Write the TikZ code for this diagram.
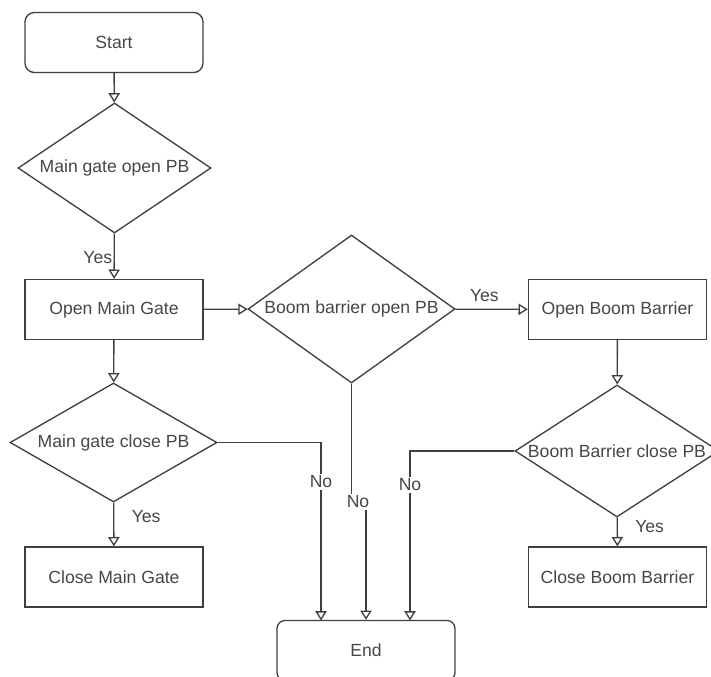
\documentclass[tikz,border=0pt]{standalone}
\usepackage{fontspec}
\setmainfont{Liberation Sans}
\usetikzlibrary{shapes.geometric, arrows.meta, positioning}
\definecolor{linegray}{RGB}{64, 64, 64}
\definecolor{textgray}{RGB}{70, 70, 70}
\newcommand{\dtext}[1]{\makebox[0pt]{#1}}

\begin{document}
\begin{tikzpicture}[
    x=0.75pt, y=-0.75pt,
    terminal/.style={rectangle, rounded corners=7pt, minimum width=133.5pt, minimum height=45pt, text centered, draw=linegray, line width=1pt, text=textgray, font=\fontsize{13.2}{16}\selectfont},
    process/.style={rectangle, minimum width=133.5pt, minimum height=45pt, text centered, draw=linegray, line width=1pt, text=textgray, font=\fontsize{13.2}{16}\selectfont},
    decision/.style={diamond, inner sep=0pt, draw=linegray, line width=1pt, text=textgray, font=\fontsize{13.2}{16}\selectfont},
    flow/.style={draw=linegray, line width=1pt, -{Triangle[open, length=7pt, width=8.5pt]}},
    edgelabel/.style={inner sep=1pt, text=textgray, font=\fontsize{13.2}{16}\selectfont},
    nolabel/.style={fill=white, inner sep=1.5pt, text=textgray, font=\fontsize{13.2}{16}\selectfont}
]
\useasboundingbox (0,0) rectangle (711,677);

% Terminals
\node (start_node) [terminal] at (114,42.5) {Start};
\node (end_node) [terminal, rounded corners=6pt] at (366,650.5) {End};

% Left column
\node (main_open_pb) [decision, minimum width=144.75pt, minimum height=97.5pt] at (114.5,168) {\dtext{Main gate open PB}};
\node (open_main_gate) [process] at (114,309.5) {Open Main Gate};
\node (main_close_pb) [decision, minimum width=155.25pt, minimum height=89.25pt] at (113.5,442.5) {\dtext{Main gate close PB}};
\node (close_main_gate) [process] at (114,577) {Close Main Gate};

% Middle
\node (boom_open_pb) [decision, minimum width=155.25pt, minimum height=111pt] at (351.5,309) {\dtext{Boom barrier open PB}};

% Right column
\node (open_boom) [process] at (617.5,309.5) {Open Boom Barrier};
\node (boom_close_pb) [decision, minimum width=153pt, minimum height=99pt] at (617,451) {\dtext{Boom Barrier close PB}};
\node (close_boom) [process] at (617.5,577) {Close Boom Barrier};

% Ends of the No branches
\coordinate (end_left) at (321,620.5);
\coordinate (end_right) at (410,620.5);
\coordinate (mid_jog) at (358,502);

% Connectors
\draw [flow] (start_node) -- (main_open_pb);
\draw [flow] (main_open_pb) -- node[edgelabel, left, pos=0.52] {Yes} (open_main_gate);
\draw [flow] (open_main_gate) -- (boom_open_pb);
\draw [flow] (boom_open_pb) -- node[edgelabel, above=4pt, pos=0.4] {Yes} (open_boom);
\draw [flow] (open_main_gate) -- (main_close_pb);
\draw [flow] (main_close_pb) -- node[edgelabel, right=12pt, pos=0.33] {Yes} (close_main_gate);
\draw [flow] (open_boom) -- (boom_close_pb);
\draw [flow] (boom_close_pb) -- node[edgelabel, right=12pt, pos=0.33] {Yes} (close_boom);
\draw [flow] (main_close_pb.east) -| node[nolabel, pos=0.61] {No} (end_left);
\draw [flow] (boom_open_pb.south) |- (mid_jog) node[nolabel] {No} -| (end_node.north);
\draw [flow] (boom_close_pb.west) -| node[nolabel, pos=0.6] {No} (end_right);

\end{tikzpicture}
\end{document}
